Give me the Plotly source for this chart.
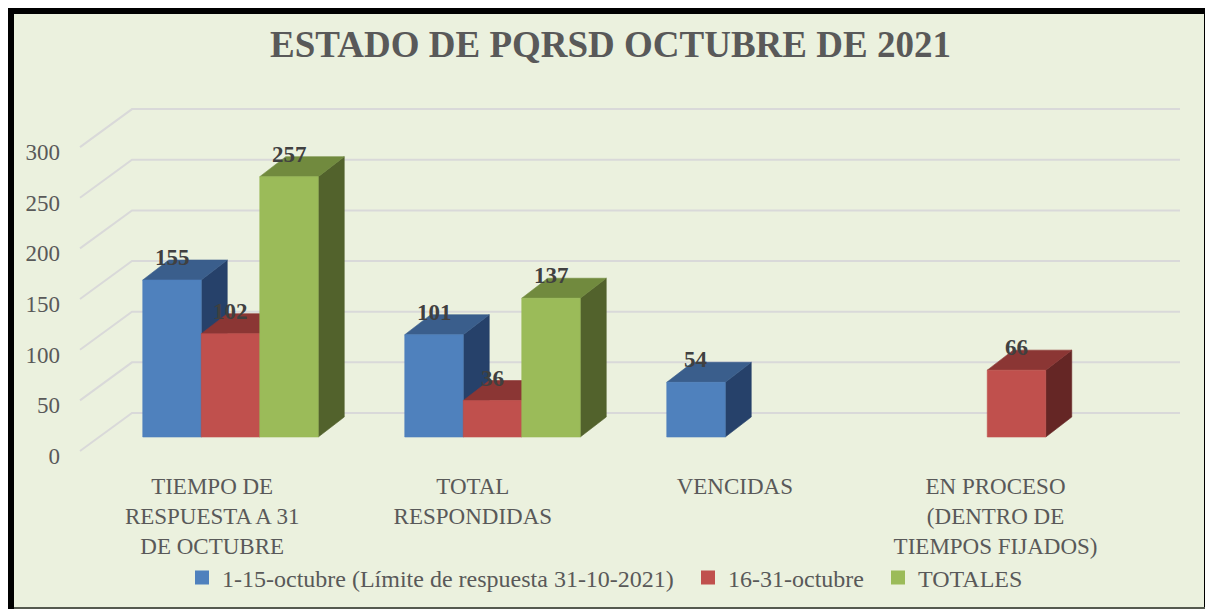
import plotly.graph_objects as go

# ---------------- data ----------------
categories = [
    "TIEMPO DE<br>RESPUESTA A 31<br>DE OCTUBRE",
    "TOTAL<br>RESPONDIDAS",
    "VENCIDAS",
    "EN PROCESO<br>(DENTRO DE<br>TIEMPOS FIJADOS)",
]
series_names = [
    "1-15-octubre (Límite de respuesta 31-10-2021)",
    "16-31-octubre",
    "TOTALES",
]
serie_1_15 = [155, 101, 54, None]
serie_16_31 = [102, 36, None, 66]
serie_totales = [257, 137, None, None]
y_ticks = [0, 50, 100, 150, 200, 250, 300]

series_values = [serie_1_15, serie_16_31, serie_totales]

# ---------------- style ----------------
front_colors = ["#4F81BD", "#C0504D", "#9BBB59"]
top_colors = ["#3A5E8C", "#8B3634", "#718A3E"]
side_colors = ["#26416A", "#652625", "#52622C"]
BG = "#EBF1DE"
GRID = "#D9D9D9"
TXT = "#595959"
LBL = "#404040"
FONT = "Liberation Serif"

W, H = 1205, 601
ML, MR, MT, MB = 60, 20, 77, 141
PX_PER_CAT = 262.0
CAT0_PX = 222.5
PX_PER_UNIT = 1.013
ZERO_PX = 443.0

x_range = [(ML - CAT0_PX) / PX_PER_CAT, (W - MR - CAT0_PX) / PX_PER_CAT]
y_range = [(ZERO_PX - (H - MB)) / PX_PER_UNIT, (ZERO_PX - MT) / PX_PER_UNIT]

BAR_W = 58.5 / PX_PER_CAT
BAR_BASE = (ZERO_PX - 429) / PX_PER_UNIT
DX = 26 / PX_PER_CAT
DY = 20 / PX_PER_UNIT
WALL = 38 / PX_PER_UNIT
GX0 = (72 - CAT0_PX) / PX_PER_CAT
GX1 = (124 - CAT0_PX) / PX_PER_CAT
GX2 = (1172 - CAT0_PX) / PX_PER_CAT
TICK_POS = [-0.07, 0.925, 1.925, 2.92]

pw = W - ML - MR
ph = H - MT - MB


def px2paper_x(px):
    return (px - ML) / pw


def px2paper_y(py):
    return (H - MB - py) / ph


fig = go.Figure()

# back wall / side gridlines
gx, gy = [], []
for v in y_ticks:
    gx += [GX0, GX1, GX2, None]
    gy += [v, v + WALL, v + WALL, None]
fig.add_trace(go.Scatter(x=gx, y=gy, mode="lines", line=dict(color=GRID, width=2),
                         hoverinfo="skip", showlegend=False))

annotations = []
for i in range(len(categories)):
    for s, vals in enumerate(series_values):
        v = vals[i]
        if v is None:
            continue
        xl = i - 1.5 * BAR_W + s * BAR_W
        xr = xl + BAR_W
        y0 = BAR_BASE
        y1 = BAR_BASE + v
        faces = [
            ([xr, xr + DX, xr + DX, xr, xr], [y0, y0 + DY, y1 + DY, y1, y0], side_colors[s]),
            ([xl, xr, xr + DX, xl + DX, xl], [y1, y1, y1 + DY, y1 + DY, y1], top_colors[s]),
            ([xl, xr, xr, xl, xl], [y0, y0, y1, y1, y0], front_colors[s]),
        ]
        for fx, fy, col in faces:
            fig.add_trace(go.Scatter(x=fx, y=fy, mode="lines", fill="toself",
                                     fillcolor=col, line=dict(color=col, width=0.6),
                                     hoverinfo="skip", showlegend=False))
        annotations.append(dict(x=(xl + xr) / 2, y=y1 + DY, xref="x", yref="y",
                                text=str(v), showarrow=False, yanchor="bottom", yshift=-12,
                                font=dict(family=FONT, size=23, color=LBL, weight="bold")))

# legend entries (one legend per entry to control spacing)
legend_ids = ["legend", "legend2", "legend3"]
legend_x_px = [174, 680, 870]
for s, name in enumerate(series_names):
    fig.add_trace(go.Scatter(x=[None], y=[None], mode="markers", name=name,
                             legend=legend_ids[s],
                             marker=dict(symbol="square", size=14, color=front_colors[s])))

shapes = [
    dict(type="rect", xref="paper", yref="paper", layer="below",
         x0=px2paper_x(0), x1=px2paper_x(1202), y0=px2paper_y(601), y1=px2paper_y(0),
         fillcolor="#000000", line=dict(width=0)),
    dict(type="rect", xref="paper", yref="paper", layer="below",
         x0=px2paper_x(6), x1=px2paper_x(1196), y0=px2paper_y(599), y1=px2paper_y(6),
         fillcolor=BG, line=dict(width=0)),
    dict(type="rect", xref="paper", yref="paper", layer="below",
         x0=px2paper_x(6), x1=px2paper_x(1202), y0=px2paper_y(601), y1=px2paper_y(599),
         fillcolor="#555A4F", line=dict(width=0)),
]

legend_common = dict(orientation="h", xanchor="left", yanchor="middle",
                     bgcolor="rgba(0,0,0,0)",
                     font=dict(family=FONT, size=24, color=TXT))
legends = {}
for s, lid in enumerate(legend_ids):
    legends[lid] = dict(legend_common, x=px2paper_x(legend_x_px[s]), y=px2paper_y(570))

fig.update_layout(
    width=W, height=H,
    margin=dict(l=ML, r=MR, t=MT, b=MB, autoexpand=False),
    paper_bgcolor="#FFFFFF",
    plot_bgcolor="rgba(0,0,0,0)",
    title=dict(text="<b>ESTADO DE PQRSD OCTUBRE DE 2021</b>", x=0.5, xref="container",
               y=1 - 36 / H, yref="container", xanchor="center", yanchor="middle",
               font=dict(family=FONT, size=37, color=TXT)),
    xaxis=dict(range=x_range, tickvals=TICK_POS, ticktext=categories, showgrid=False,
               zeroline=False, showline=False, ticks="", fixedrange=True,
               ticklabelstandoff=2,
               tickfont=dict(family=FONT, size=23, color=TXT)),
    yaxis=dict(range=y_range, tickvals=y_ticks, showgrid=False, zeroline=False,
               showline=False, ticks="", fixedrange=True, ticklabelstandoff=7,
               ticklabelshift=5,
               tickfont=dict(family=FONT, size=23, color=TXT)),
    shapes=shapes,
    annotations=annotations,
    showlegend=True,
    **legends,
)

fig.write_html("out.html")
